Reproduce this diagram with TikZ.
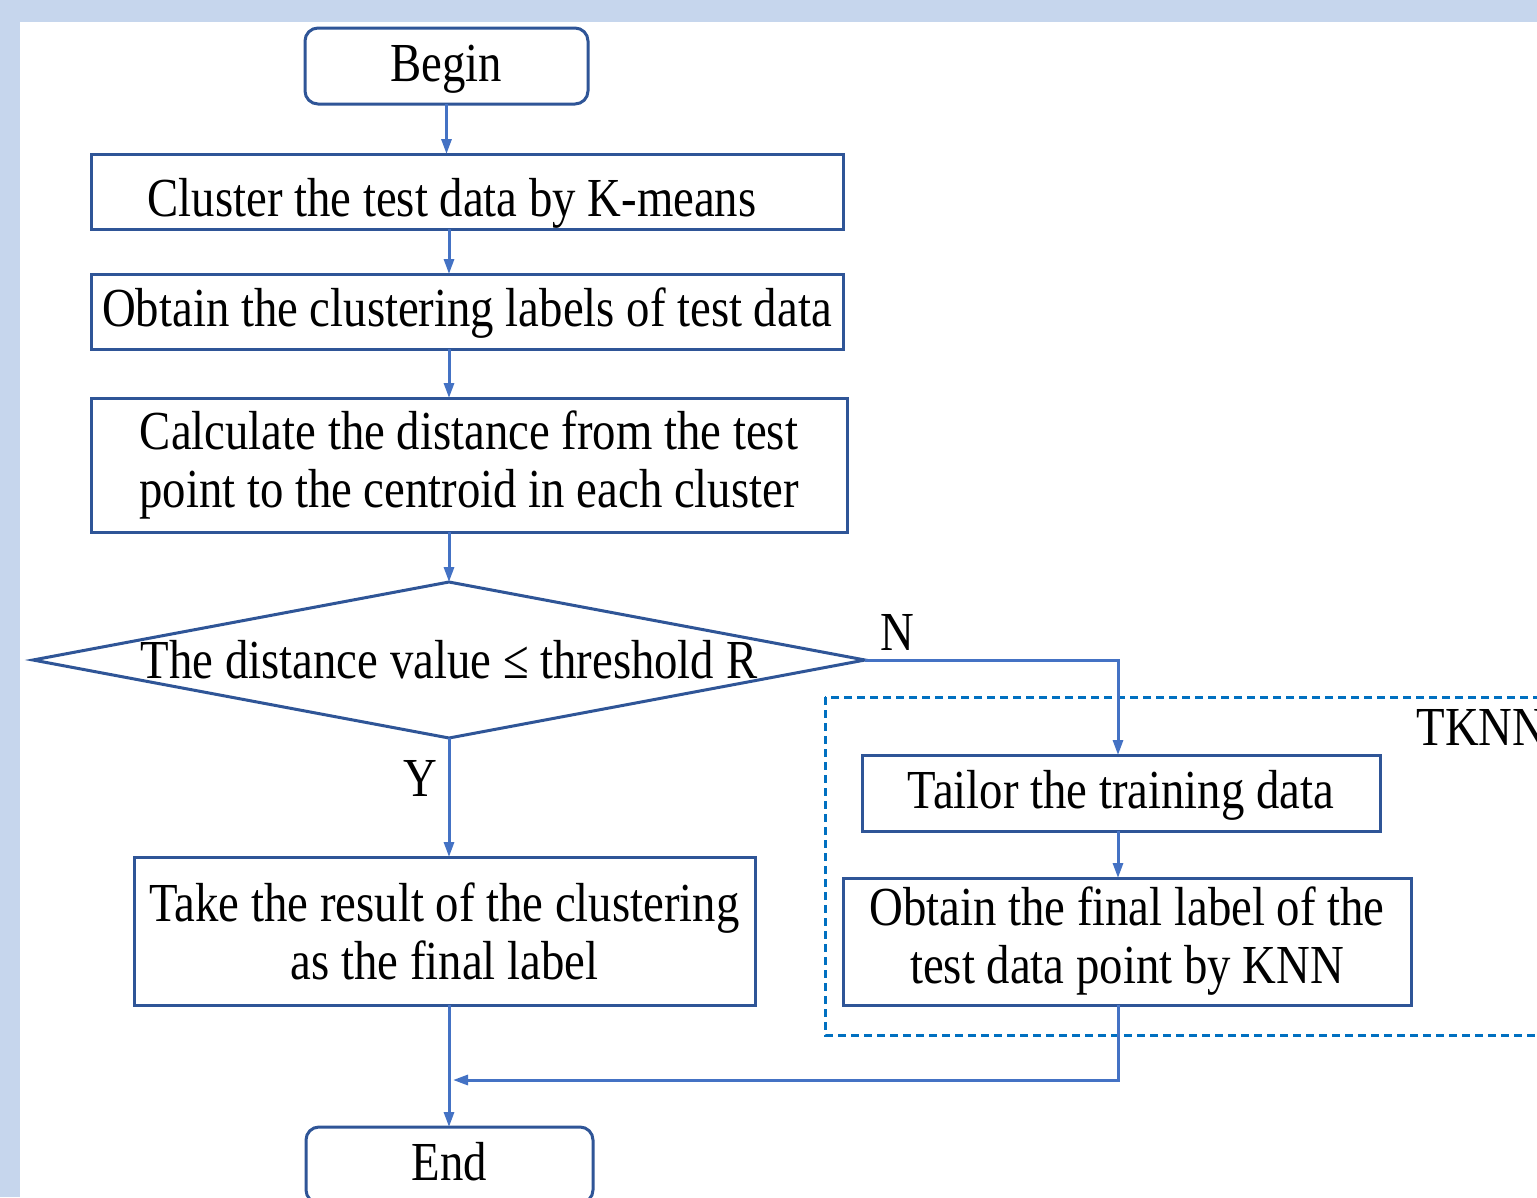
\documentclass[tikz,border=0pt]{standalone}
\usepackage{fontspec}
\setmainfont{Liberation Serif}[FakeStretch=0.85]
\usetikzlibrary{shapes.geometric, arrows.meta, positioning}

\definecolor{boxblue}{RGB}{47,85,151}
\definecolor{lineblue}{RGB}{68,114,196}
\definecolor{tknnblue}{RGB}{0,112,192}
\definecolor{frameblue}{RGB}{198,214,237}

\begin{document}
\begin{tikzpicture}[
    x=1pt, y=-1pt,
    font=\fontsize{55}{58}\selectfont,
    % Style definitions
    terminal/.style={rectangle, rounded corners=13pt, minimum width=283pt, minimum height=76pt,
                     draw=boxblue, line width=3pt, inner sep=0pt, outer sep=0pt, oneline},
    process/.style={rectangle, draw=boxblue, line width=3pt, inner sep=0pt, outer sep=0pt,
                    align=center},
    oneline/.style={text height=41pt, text depth=11pt},
    decision/.style={diamond, minimum width=832pt, minimum height=156pt,
                     draw=boxblue, line width=3pt, inner sep=0pt, outer sep=0pt},
    arrow/.style={-{Triangle[length=15pt, width=10pt]}, draw=lineblue, line width=3pt},
    group/.style={draw=tknnblue, line width=3pt, dash pattern=on 8pt off 5pt},
    answer/.style={inner sep=0pt, outer sep=0pt},
]

% Frame
\useasboundingbox (0,0) rectangle (1537,1197);
\fill[frameblue] (0,0) rectangle (1537,1197);
\fill[white] (20,22) rectangle (1537,1197);

% Main column
\node[terminal] (begin) at (446.5,66) {Begin};
\node[process, minimum width=752pt, minimum height=75pt, text height=52pt, text depth=3pt,
      below=50pt of begin, xshift=20.5pt] (cluster)
    {Cluster the test data by K-means\hspace*{30pt}};
\node[process, oneline, minimum width=752pt, minimum height=75pt, below=45pt of cluster] (obtain)
    {Obtain the clustering labels of test data};
\node[process, minimum width=756pt, minimum height=134pt, below=49pt of obtain, xshift=2pt] (calc)
    {Calculate the distance from the test\\point to the centroid in each cluster};
\node[decision, below=50pt of calc, xshift=-20pt] (dec)
    {\makebox[0pt]{The distance value ≤ threshold R}};
\node[process, minimum width=621pt, minimum height=148pt, below=119pt of dec, xshift=-4.5pt] (take)
    {Take the result of the clustering\\as the final label};
\node[terminal, minimum width=287pt, below=122pt of take, xshift=5pt] (end) {End};

% TKNN branch
\draw[group] (825,697) rectangle (1560,1035);
\node[anchor=base west] (tknn) at (1413,745) {TKNN};
\node[process, oneline, minimum width=518pt, minimum height=76pt] (tailor) at (1121,793)
    {Tailor the training data};
\node[process, minimum width=568pt, minimum height=127pt, below=47pt of tailor, xshift=6pt] (final)
    {Obtain the final label of the\\test data point by KNN};

\node[answer, above right=10pt and 15pt of dec.east] (no) {N};
\node[answer, below left=22pt and 12pt of dec.south] (yes) {Y};

% Arrows
\coordinate (axis) at (449,0);
\coordinate (rcol) at (1118,0);
\coordinate (join) at (453,1080);
\draw[arrow] (begin) -- (begin.south |- cluster.north);
\draw[arrow] (axis |- cluster.south) -- (axis |- obtain.north);
\draw[arrow] (axis |- obtain.south) -- (axis |- calc.north);
\draw[arrow] (axis |- calc.south) -- (dec.north);
\draw[arrow] (dec.south) -- (dec.south |- take.north);
\draw[arrow] (dec.east) -| (rcol |- tailor.north);
\draw[arrow] (rcol |- tailor.south) -- (rcol |- final.north);
\draw[arrow] (rcol |- final.south) |- (join);
\draw[arrow] (axis |- take.south) -- (axis |- end.north);

\end{tikzpicture}
\end{document}
